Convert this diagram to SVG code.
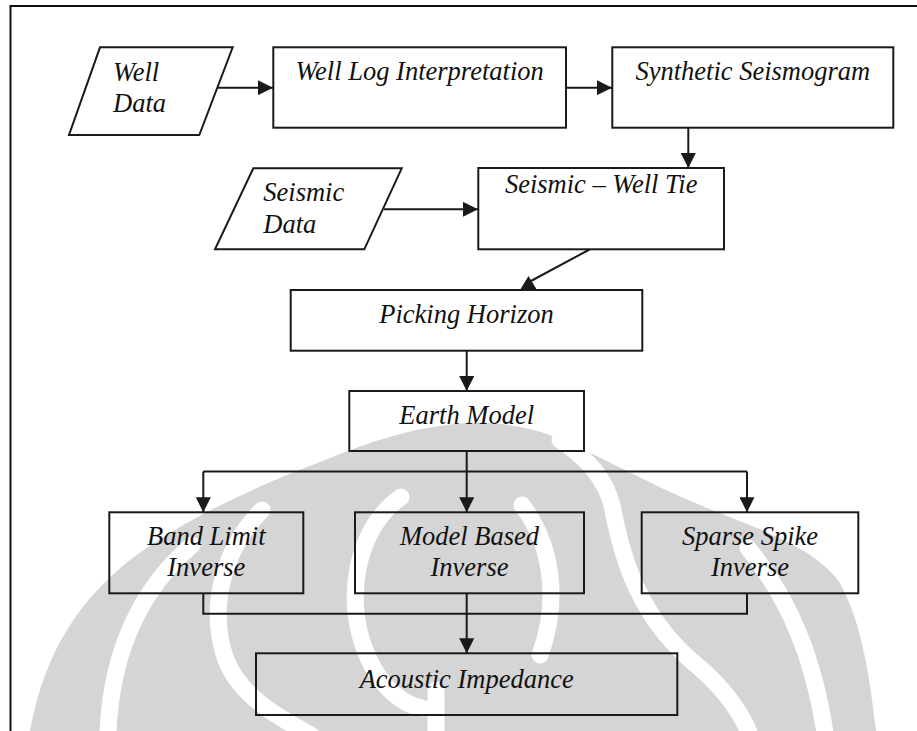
<svg xmlns="http://www.w3.org/2000/svg" width="917" height="731" viewBox="0 0 917 731">
  <style>
    .box { fill: none; stroke: #1a1a1a; stroke-width: 2; }
    .lbl { font-family: "Liberation Serif", "Times New Roman", serif; font-style: italic; font-size: 26.5px; fill: #111; }
    .mid { text-anchor: middle; }
    .wire { fill: none; stroke: #1a1a1a; stroke-width: 2; }
    .frame { fill: none; stroke: #111; stroke-width: 2; }
    .wm { fill: #d5d5d5; }
    .gap { fill: none; stroke: #fff; stroke-width: 17; stroke-linecap: round; }
  </style>
  <defs>
    <marker id="arrow" viewBox="0 0 15 15" refX="15" refY="7.5" markerWidth="15" markerHeight="15" markerUnits="userSpaceOnUse" orient="auto">
      <path d="M0,0 L15,7.5 L0,15 Z" fill="#1a1a1a"/>
    </marker>
  </defs>

  <rect width="917" height="731" fill="#fff"/>

  <!-- faint emblem behind the flowchart -->
  <g id="emblem">
    <path class="wm" d="M468,423 C420,426 380,438 330,458 C260,485 190,515 130,560 C80,600 45,650 30,731 L876,731 C870,680 862,620 838,580 C810,545 760,530 700,505 C650,485 600,455 550,435 C525,426 495,422 468,423 Z"/>
    <path class="gap" d="M192,545 C140,590 112,650 108,731"/>
    <path class="gap" d="M262,510 C222,550 208,610 226,660 C242,700 285,720 312,736"/>
    <path class="gap" d="M401,497 C355,530 345,600 365,650 C380,690 405,705 422,708"/>
    <path class="gap" d="M436,690 L436,740"/>
    <path class="gap" d="M522,505 C552,545 560,600 540,655"/>
    <path class="gap" d="M560,440 C590,460 605,480 612,505 C622,560 640,620 700,668 C725,690 742,712 752,740"/>
    <path class="gap" d="M748,548 C790,600 815,660 826,740"/>
  </g>

  <!-- page frame -->
  <path class="frame" d="M10.5,731 L10.5,6 L917,6"/>

  <!-- connectors -->
  <g id="connectors">
    <path class="wire" d="M218,87.7 L273,87.7" marker-end="url(#arrow)"/>
    <path class="wire" d="M566,87.7 L612,87.7" marker-end="url(#arrow)"/>
    <path class="wire" d="M688.3,128 L688.3,168" marker-end="url(#arrow)"/>
    <path class="wire" d="M384,209.3 L478,209.3" marker-end="url(#arrow)"/>
    <path class="wire" d="M589.5,249.5 L530,281.5"/>
    <path d="M520,290 L528.5,276 L537,290 Z" fill="#1a1a1a"/>
    <path class="wire" d="M466.7,351 L466.7,391" marker-end="url(#arrow)"/>
    <path class="wire" d="M466.7,451 L466.7,512.3" marker-end="url(#arrow)"/>
    <path class="wire" d="M203.3,471.5 L747,471.5"/>
    <path class="wire" d="M203.3,471.5 L203.3,512.3" marker-end="url(#arrow)"/>
    <path class="wire" d="M747,471.5 L747,512.3" marker-end="url(#arrow)"/>
    <path class="wire" d="M203.3,593.3 L203.3,613.7 L747,613.7 L747,593.3"/>
    <path class="wire" d="M466.7,593.3 L466.7,653.3" marker-end="url(#arrow)"/>
  </g>

  <g id="well-data">
    <path class="box" d="M100,47.3 L232.7,47.3 L199.3,135 L69,135 Z"/>
    <text class="lbl" x="113" y="81">Well</text>
    <text class="lbl" x="113" y="112">Data</text>
  </g>

  <g id="well-log-interpretation">
    <rect class="box" x="273.3" y="47.3" width="292.7" height="80.4"/>
    <text class="lbl mid" x="419.6" y="80">Well Log Interpretation</text>
  </g>

  <g id="synthetic-seismogram">
    <rect class="box" x="612.3" y="47.3" width="281" height="80.4"/>
    <text class="lbl mid" x="752.8" y="80">Synthetic Seismogram</text>
  </g>

  <g id="seismic-data">
    <path class="box" d="M253.3,168.3 L401.7,168.3 L364.3,249.3 L215,249.3 Z"/>
    <text class="lbl" x="263.3" y="201">Seismic</text>
    <text class="lbl" x="263.3" y="233">Data</text>
  </g>

  <g id="seismic-well-tie">
    <rect class="box" x="478.3" y="168" width="245.7" height="81.3"/>
    <text class="lbl mid" x="601.2" y="193.3">Seismic – Well Tie</text>
  </g>

  <g id="picking-horizon">
    <rect class="box" x="290.7" y="290" width="351.6" height="60.7"/>
    <text class="lbl mid" x="466.5" y="323.3">Picking Horizon</text>
  </g>

  <g id="earth-model">
    <rect class="box" x="349.3" y="391" width="234.7" height="60"/>
    <text class="lbl mid" x="466.7" y="424.3">Earth Model</text>
  </g>

  <g id="band-limit-inverse">
    <rect class="box" x="109.3" y="512.3" width="194" height="81"/>
    <text class="lbl mid" x="206.3" y="545">Band Limit</text>
    <text class="lbl mid" x="206.3" y="576">Inverse</text>
  </g>

  <g id="model-based-inverse">
    <rect class="box" x="355" y="512.3" width="229" height="81"/>
    <text class="lbl mid" x="469.5" y="545">Model Based</text>
    <text class="lbl mid" x="469.5" y="576">Inverse</text>
  </g>

  <g id="sparse-spike-inverse">
    <rect class="box" x="641.7" y="512.3" width="216.6" height="81"/>
    <text class="lbl mid" x="750" y="545">Sparse Spike</text>
    <text class="lbl mid" x="750" y="576">Inverse</text>
  </g>

  <g id="acoustic-impedance">
    <rect class="box" x="256" y="653.3" width="421.3" height="61.7"/>
    <text class="lbl mid" x="466.7" y="688.3">Acoustic Impedance</text>
  </g>
</svg>
